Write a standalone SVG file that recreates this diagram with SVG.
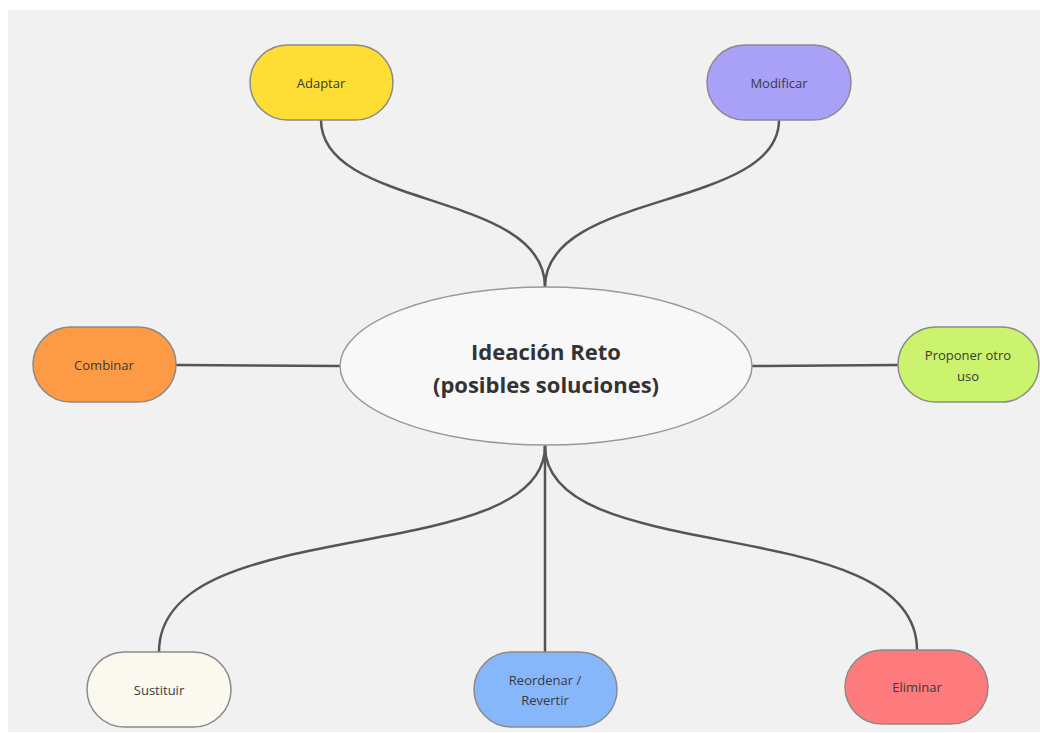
<svg xmlns="http://www.w3.org/2000/svg" width="1040" height="733" viewBox="0 0 1040 733">
<style>
.node{stroke:#8a8a8a;stroke-width:1.5}
.lbl{font-family:"Open Sans","DejaVu Sans",sans-serif;font-size:13px;fill:#3a3a3a;text-anchor:middle;dominant-baseline:central}
.title{font-family:"Open Sans","DejaVu Sans",sans-serif;font-size:22px;font-weight:bold;fill:#333;text-anchor:middle;dominant-baseline:central}
.conn path,.conn line{fill:none;stroke:#555;stroke-width:2.5;stroke-linecap:round}
</style>
<rect x="0" y="0" width="1040" height="733" fill="#ffffff"/>
<rect x="8" y="10" width="1032" height="722" fill="#f1f1f1"/>
<g class="conn" id="connectors">
<path d="M321,120 C321,210 545,190 545,287"/>
<path d="M779,120 C779,210 545,190 545,287"/>
<line x1="176" y1="365" x2="340" y2="366"/>
<line x1="752" y1="366" x2="898" y2="365"/>
<path d="M545,446 C545,570 159,510 159,652"/>
<line x1="545" y1="446" x2="545" y2="652"/>
<path d="M545,446 C545,570 917,510 917,650"/>
</g>
<g id="center">
<ellipse cx="546" cy="366" rx="206" ry="79" fill="#f8f8f8" stroke="#999" stroke-width="1.5"/>
<text class="title" x="546" y="351">Ideación Reto</text>
<text class="title" x="546" y="384">(posibles soluciones)</text>
</g>
<g id="adaptar">
<rect class="node" x="250" y="45" width="143" height="75" rx="37.5" fill="#fedd35"/>
<text class="lbl" x="321" y="83">Adaptar</text>
</g>
<g id="modificar">
<rect class="node" x="707" y="45" width="144" height="75" rx="37.5" fill="#a9a1f8"/>
<text class="lbl" x="779" y="83">Modificar</text>
</g>
<g id="combinar">
<rect class="node" x="33" y="327" width="143" height="75" rx="37.5" fill="#fd9a45"/>
<text class="lbl" x="104" y="365">Combinar</text>
</g>
<g id="proponer">
<rect class="node" x="898" y="327" width="141" height="75" rx="37.5" fill="#cbf36e"/>
<text class="lbl" x="968" y="355">Proponer otro</text>
<text class="lbl" x="968" y="376">uso</text>
</g>
<g id="sustituir">
<rect class="node" x="87" y="652" width="144" height="75" rx="37.5" fill="#fbf8ef"/>
<text class="lbl" x="159" y="690">Sustituir</text>
</g>
<g id="reordenar">
<rect class="node" x="474" y="652" width="143" height="75" rx="37.5" fill="#86b7fb"/>
<text class="lbl" x="545" y="680">Reordenar /</text>
<text class="lbl" x="545" y="700">Revertir</text>
</g>
<g id="eliminar">
<rect class="node" x="845" y="650" width="143" height="74" rx="37" fill="#fd7b7d"/>
<text class="lbl" x="917" y="687">Eliminar</text>
</g>
</svg>
